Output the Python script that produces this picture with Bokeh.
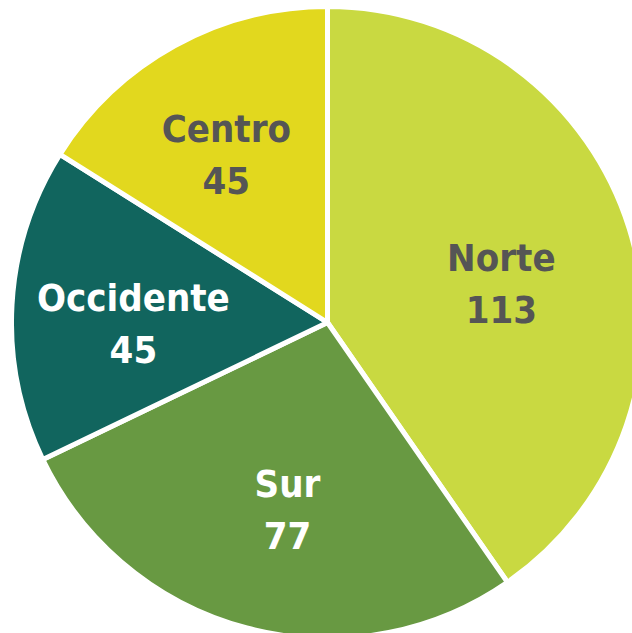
import math
from bokeh.plotting import figure
from bokeh.models import ColumnDataSource, Range1d
from bokeh.core.properties import value
from bokeh.embed import file_html
from bokeh.resources import INLINE

categories = ["Norte", "Sur", "Occidente", "Centro"]
counts = [113, 77, 45, 45]
colors = ["#C9D941", "#689942", "#11655E", "#E2D81E"]
label_colors = ["#555555", "#FFFFFF", "#FFFFFF", "#555555"]

W, H = 632, 633
CX, CY = 327, 322
R = 316
# fine label nudges (pixels) to mimic the original label placement
nudge_x = [-6, 8, -6, -10]
nudge_y = [-4, 9, 2, 17]

total = sum(counts)
starts, ends, lx, ly, texts = [], [], [], [], []
a = math.pi / 2
for i, (c, n) in enumerate(zip(categories, counts)):
    span = 2 * math.pi * n / total
    starts.append(a)
    ends.append(a - span)
    mid = a - span / 2
    lx.append(0.6 * 314 * math.cos(mid) + nudge_x[i])
    ly.append(0.6 * 314 * math.sin(mid) - 14 + nudge_y[i])
    texts.append(f"{c}\n{n}")
    a -= span

src = ColumnDataSource(dict(start=starts, end=ends, color=colors,
                            lx=lx, ly=ly, text=texts, tcolor=label_colors))

p = figure(width=W, height=H, output_backend="svg", toolbar_location=None,
           x_range=Range1d(-CX, W - CX), y_range=Range1d(-(H - CY), CY),
           min_border=0, outline_line_color=None)
p.axis.visible = False
p.grid.visible = False
p.background_fill_color = "white"
p.border_fill_color = "white"

p.wedge(x=0, y=0, radius=R, start_angle="start", end_angle="end",
        direction="clock", fill_color="color", line_color="white",
        line_width=5, source=src)

p.text(x="lx", y="ly", text="text", text_color="tcolor",
       text_font=value("'Liberation Sans Narrow', 'DejaVu Sans Condensed', Roboto, sans-serif"),
       text_font_style="bold",
       text_font_size="38px", text_align="center", text_baseline="middle",
       text_line_height=1.18, source=src)

open("out.html", "w").write(file_html(p, INLINE))
